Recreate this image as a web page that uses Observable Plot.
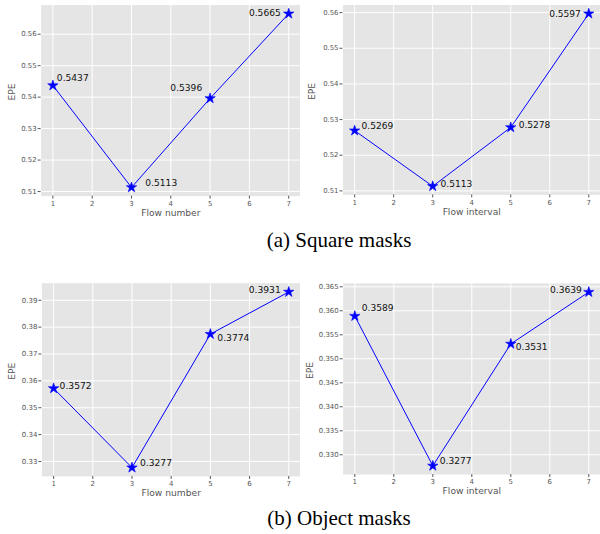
<!DOCTYPE html>
<html>
<head>
<meta charset="utf-8">
<script src="https://cdn.jsdelivr.net/npm/d3@7"></script>
<script src="https://cdn.jsdelivr.net/npm/@observablehq/plot@0.6"></script>
<style>
  html, body { margin: 0; padding: 0; width: 600px; height: 534px; overflow: hidden; background: #fff; }
  .panel { position: absolute; overflow: hidden; }
  .caption { position: absolute; left: 0; width: 600px; padding-left: 39px; box-sizing: content-box;
    text-align: center; font-family: "Liberation Serif", "Times New Roman", serif; font-size: 21px;
    line-height: 21px; color: #000; white-space: nowrap; }
</style>
</head>
<body>
<div id="p1" class="panel" style="left:0;top:0;width:300px;height:226px"></div>
<div id="p2" class="panel" style="left:300px;top:0;width:300px;height:226px"></div>
<div id="p3" class="panel" style="left:0;top:270px;width:300px;height:234px"></div>
<div id="p4" class="panel" style="left:300px;top:270px;width:300px;height:234px"></div>
<div id="capA" class="caption" style="top:230px"></div>
<div id="capB" class="caption" style="top:508px"></div>
<script>
// ---- data ----
const flowSteps = [1, 3, 5, 7];
const squareNumberEPE = [0.5437, 0.5113, 0.5396, 0.5665];
const squareIntervalEPE = [0.5269, 0.5113, 0.5278, 0.5597];
const objectNumberEPE = [0.3572, 0.3277, 0.3774, 0.3931];
const objectIntervalEPE = [0.3589, 0.3277, 0.3531, 0.3639];

const xTicks = [1, 2, 3, 4, 5, 6, 7];
const squareYTicks = [0.51, 0.52, 0.53, 0.54, 0.55, 0.56];
const objectNumberYTicks = [0.33, 0.34, 0.35, 0.36, 0.37, 0.38, 0.39];
const objectIntervalYTicks = [0.330, 0.335, 0.340, 0.345, 0.350, 0.355, 0.360, 0.365];

const xLabelNumber = "Flow number";
const xLabelInterval = "Flow interval";
const yLabel = "EPE";
const captionA = "(a) Square masks";
const captionB = "(b) Object masks";

// ---- annotation layout (anchor, dx, dy) per point ----
const layoutP1 = [["start", 4, -7], ["start", 14, -4], ["end", -8, -10], ["end", -8, -1]];
const layoutP2 = [["start", 7, -5], ["start", 8, -2], ["start", 8, -2], ["end", -8, 0]];
const layoutP3 = [["start", 6, -2], ["start", 8, -4.5], ["start", 7, 4], ["end", -8, -1.5]];
const layoutP4 = [["start", 7, -8], ["start", 7, -4.5], ["start", 5, 3.5], ["end", -7, -2]];

function panel(el, cfg) {
  const { values, layout, xLabel, yTicks, yFmt, width, height, ml, mt, mb, yLabOff } = cfg;
  const [lo, hi] = d3.extent(values);
  const pad = (hi - lo) * 0.05;
  const data = flowSteps.map((s, i) => ({ step: s, epe: values[i] }));
  const labels = data.map((d, i) =>
    Plot.text([d], {
      x: "step", y: "epe", text: (v) => v.epe.toFixed(4),
      textAnchor: layout[i][0], dx: layout[i][1], dy: layout[i][2],
      fontSize: 9.2, fill: "#111", fontFamily: "DejaVu Sans"
    })
  );
  const chart = Plot.plot({
    width, height,
    marginLeft: ml, marginRight: 0, marginTop: mt, marginBottom: mb,
    style: { fontFamily: "DejaVu Sans", fontSize: "7px", color: "#555", background: "transparent", overflow: "visible" },
    x: { domain: [0.7, 7.3] },
    y: { domain: [lo - pad, hi + pad] },
    marks: [
      Plot.frame({ fill: "#e5e5e5", stroke: null }),
      Plot.gridX(xTicks, { stroke: "#fff", strokeOpacity: 1, strokeWidth: 1 }),
      Plot.gridY(yTicks, { stroke: "#fff", strokeOpacity: 1, strokeWidth: 1 }),
      Plot.axisX(xTicks, { tickSize: 3, tickPadding: 2, tickFormat: (d) => String(d), label: null, stroke: "#555", fill: "#555", fontSize: 7 }),
      Plot.axisY(yTicks, { tickSize: 3, tickPadding: 1.5, tickFormat: d3.format(yFmt), label: null, stroke: "#555", fill: "#555", fontSize: 7 }),
      Plot.text([xLabel], { text: (d) => d, frameAnchor: "bottom", dy: 20, fontSize: 9.2, fill: "#555", fontFamily: "DejaVu Sans" }),
      Plot.text([yLabel], { text: (d) => d, frameAnchor: "left", dx: -yLabOff, rotate: -90, fontSize: 9.2, fill: "#555", fontFamily: "DejaVu Sans" }),
      Plot.line(data, { x: "step", y: "epe", stroke: "blue", strokeWidth: 1 }),
      Plot.dot(data, { x: "step", y: "epe", symbol: "star", r: 3.3, fill: "blue", stroke: "blue", strokeWidth: 0.6 }),
      ...labels
    ]
  });
  document.getElementById(el).appendChild(chart);
}

panel("p1", { values: squareNumberEPE, layout: layoutP1, xLabel: xLabelNumber, yTicks: squareYTicks, yFmt: ".2f",
  width: 303, height: 226, ml: 41, mt: 4.6, mb: 28.4, yLabOff: 29 });
panel("p2", { values: squareIntervalEPE, layout: layoutP2, xLabel: xLabelInterval, yTicks: squareYTicks, yFmt: ".2f",
  width: 304, height: 226, ml: 43, mt: 4.6, mb: 29, yLabOff: 31 });
panel("p3", { values: objectNumberEPE, layout: layoutP3, xLabel: xLabelNumber, yTicks: objectNumberYTicks, yFmt: ".2f",
  width: 301, height: 234, ml: 41.5, mt: 12.7, mb: 27.4, yLabOff: 30 });
panel("p4", { values: objectIntervalEPE, layout: layoutP4, xLabel: xLabelInterval, yTicks: objectIntervalYTicks, yFmt: ".3f",
  width: 302.6, height: 234, ml: 43, mt: 13, mb: 28.2, yLabOff: 33 });

document.getElementById("capA").textContent = captionA;
document.getElementById("capB").textContent = captionB;
</script>
</body>
</html>
